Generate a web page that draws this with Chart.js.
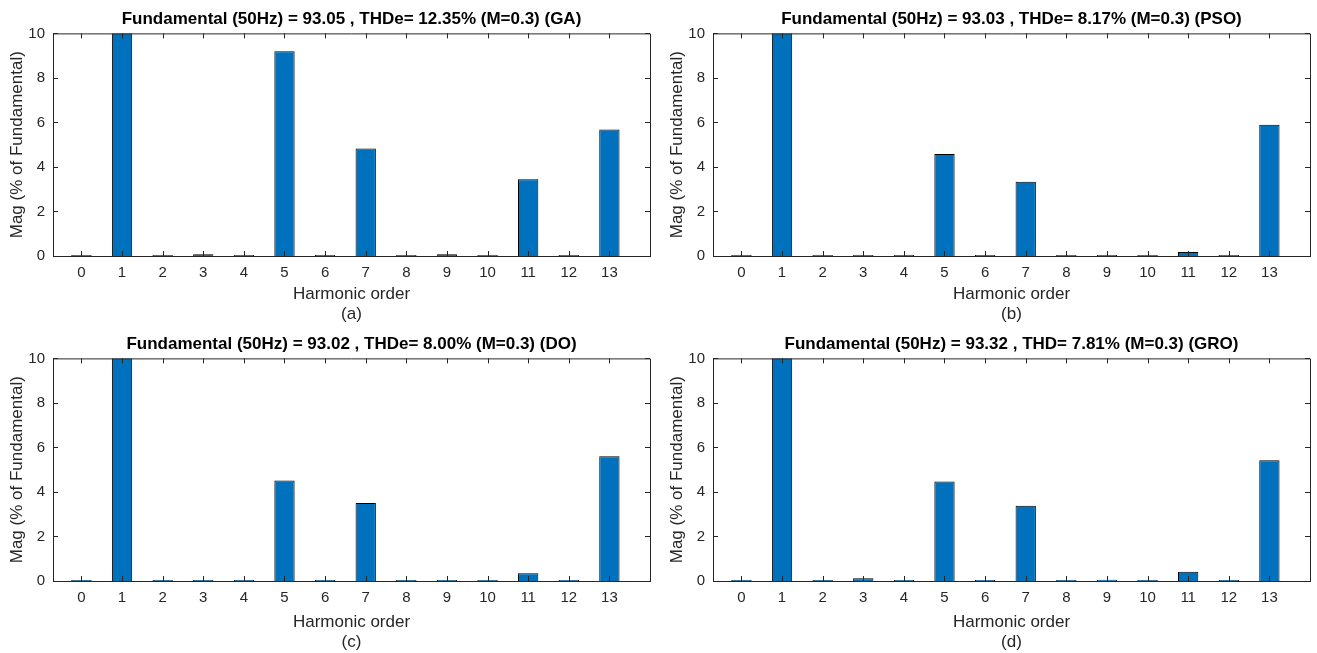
<!DOCTYPE html>
<html>
<head>
<meta charset="utf-8">
<script src="https://cdn.jsdelivr.net/npm/chart.js@4/dist/chart.umd.min.js"></script>
<style>
  body { margin: 0; background: #fff; }
  #wrap { position: relative; width: 1317px; height: 653px; }
  canvas { position: absolute; }
</style>
</head>
<body>
<div id="wrap">
  <canvas id="cA" width="658" height="325" style="left:0;top:0"></canvas>
  <canvas id="cB" width="657" height="325" style="left:660px;top:0"></canvas>
  <canvas id="cC" width="658" height="328" style="left:0;top:325px"></canvas>
  <canvas id="cD" width="657" height="328" style="left:660px;top:325px"></canvas>
</div>
<script>
// harmonic orders and magnitudes (% of fundamental)
const harmonics = [0, 1, 2, 3, 4, 5, 6, 7, 8, 9, 10, 11, 12, 13];
const magGA  = [0, 100, 0, 0.08, 0, 9.2, 0, 4.83, 0, 0.08, 0, 3.45, 0, 5.68];
const magPSO = [0, 100, 0, 0, 0, 4.58, 0, 3.33, 0, 0, 0, 0.18, 0, 5.9];
const magDO  = [0, 100, 0, 0.05, 0, 4.52, 0, 3.5, 0, 0.05, 0, 0.35, 0, 5.6];
const magGRO = [0, 100, 0, 0.12, 0, 4.47, 0, 3.38, 0, 0.06, 0, 0.42, 0, 5.42];
const yTicks = [0, 2, 4, 6, 8, 10];

const titles = [
    'Fundamental (50Hz) = 93.05 , THDe= 12.35% (M=0.3) (GA)',
    'Fundamental (50Hz) = 93.03 , THDe= 8.17% (M=0.3) (PSO)',
    'Fundamental (50Hz) = 93.02 , THDe= 8.00% (M=0.3) (DO)',
    'Fundamental (50Hz) = 93.32 , THD= 7.81% (M=0.3) (GRO)'
];
const captions = ['(a)', '(b)', '(c)', '(d)'];

const axisColor = '#262626';
const fontFamily = '"Liberation Sans", Arial, Helvetica, sans-serif';

// MATLAB-like box: top/right frame plus inward tick marks
const boxPlugin = {
    id: 'matlabBox',
    afterDatasetsDraw(chart) {
        const { ctx, chartArea: a, scales } = chart;
        const len = 5;
        ctx.save();
        ctx.strokeStyle = axisColor;
        ctx.lineWidth = 1;
        ctx.beginPath();
        ctx.moveTo(a.left, a.top + 0.5);
        ctx.lineTo(a.right + 0.5, a.top + 0.5);
        ctx.lineTo(a.right + 0.5, a.bottom);
        scales.x.ticks.forEach(t => {
            const px = Math.round(scales.x.getPixelForValue(t.value)) + 0.5;
            ctx.moveTo(px, a.bottom); ctx.lineTo(px, a.bottom - len);
            ctx.moveTo(px, a.top); ctx.lineTo(px, a.top + len);
        });
        scales.y.ticks.forEach(t => {
            const py = Math.round(scales.y.getPixelForValue(t.value)) + 0.5;
            ctx.moveTo(a.left, py); ctx.lineTo(a.left + len, py);
            ctx.moveTo(a.right, py); ctx.lineTo(a.right - len, py);
        });
        ctx.stroke();
        ctx.restore();
    }
};

function makeChart(id, values, title, caption, rightPad, xHeight) {
    const ctx = document.getElementById(id).getContext('2d');
    return new Chart(ctx, {
        type: 'bar',
        data: {
            datasets: [{
                data: harmonics.map((h, i) => ({ x: h, y: values[i] })),
                backgroundColor: '#0072BD',
                borderColor: '#000',
                borderWidth: 1,
                minBarLength: 1,
                barPercentage: 0.5,
                categoryPercentage: 1
            }]
        },
        options: {
            responsive: false,
            animation: false,
            layout: { padding: { right: rightPad, bottom: 0, left: 0, top: 0 } },
            plugins: {
                legend: { display: false },
                tooltip: { enabled: false },
                title: {
                    display: true,
                    text: title,
                    fullSize: false,
                    color: '#000',
                    font: { family: fontFamily, size: 17, weight: 'bold', lineHeight: 1.2 },
                    padding: { top: 9, bottom: 4 }
                }
            },
            scales: {
                x: {
                    type: 'linear',
                    min: -0.7,
                    max: 14,
                    offset: false,
                    grid: { display: false, drawTicks: false },
                    border: { display: true, color: axisColor, width: 1 },
                    afterBuildTicks: s => { s.ticks = harmonics.map(v => ({ value: v })); },
                    afterFit: s => { s.height = xHeight; },
                    ticks: {
                        color: axisColor,
                        padding: 8,
                        maxRotation: 0,
                        autoSkip: false,
                        font: { family: fontFamily, size: 15 }
                    },
                    title: {
                        display: true,
                        text: ['Harmonic order', caption],
                        color: axisColor,
                        font: { family: fontFamily, size: 17, lineHeight: 1.2 },
                        padding: { top: 0, bottom: 0 }
                    }
                },
                y: {
                    min: 0,
                    max: 10,
                    grid: { display: false, drawTicks: false },
                    border: { display: true, color: axisColor, width: 1 },
                    afterBuildTicks: s => { s.ticks = yTicks.map(v => ({ value: v })); },
                    afterFit: s => { s.width = 53; },
                    ticks: {
                        color: axisColor,
                        padding: 8,
                        font: { family: fontFamily, size: 15 }
                    },
                    title: {
                        display: true,
                        text: 'Mag (% of Fundamental)',
                        color: axisColor,
                        font: { family: fontFamily, size: 17, lineHeight: 1.2 },
                        padding: { top: 7, bottom: 0 }
                    }
                }
            }
        },
        plugins: [boxPlugin]
    });
}

makeChart('cA', magGA, titles[0], captions[0], 8, 69);
makeChart('cB', magPSO, titles[1], captions[1], 7, 69);
makeChart('cC', magDO, titles[2], captions[2], 8, 72);
makeChart('cD', magGRO, titles[3], captions[3], 7, 72);
</script>
</body>
</html>
